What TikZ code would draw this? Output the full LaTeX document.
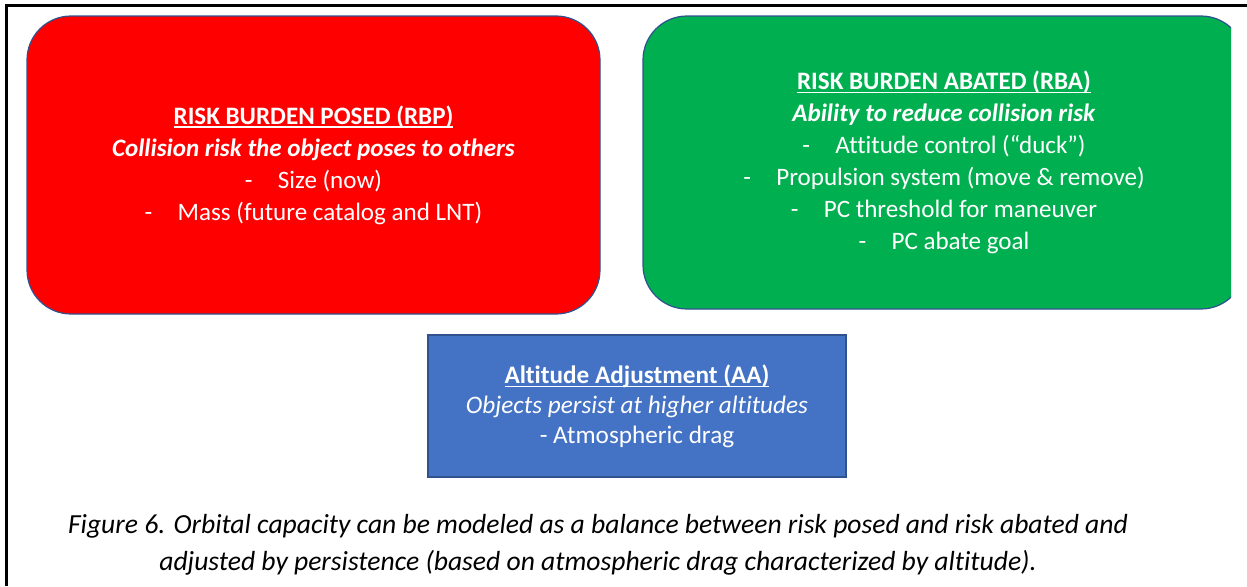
\documentclass[tikz,border=0pt]{standalone}
\usepackage{fontspec}
\setmainfont[Ligatures={NoCommon,NoContextual}]{Carlito}

\definecolor{rbpred}{HTML}{FF0000}
\definecolor{rbagreen}{HTML}{00B050}
\definecolor{aablue}{HTML}{4472C4}
\definecolor{edgeblue}{HTML}{2F528F}

% underline drawn at a fixed depth below the baseline
\newcommand\titleul[1]{\setbox0=\hbox{#1}\rlap{\rule[-2.6pt]{\wd0}{0.85pt}}\box0}
% centred list item with a dash
\newcommand\dashitem[1]{-\hspace{19pt}#1}

\begin{document}
\begin{tikzpicture}[x=0.75pt,y=-0.75pt,
  panel/.style={draw=edgeblue, line width=0.9pt, text=white, align=center,
    inner sep=0pt, font=\fontsize{18.8}{24}\selectfont},
  roundpanel/.style={panel, rounded corners=33pt},
  captiontext/.style={align=center, inner sep=0pt,
    font=\itshape\fontsize{20.7}{27.75}\selectfont}]
\useasboundingbox (0,0) rectangle (1247,586);

% page frame (top and left rules)
\draw[line width=1.6pt] (6.5,586) -- (6.5,5.5) -- (1247,5.5);

% risk burden posed
\node[roundpanel, fill=rbpred, minimum width=429.75pt, minimum height=223.5pt]
  (rbp) at (313.5,165)
  {\titleul{\textbf{RISK BURDEN POSED (RBP)}}\\
   \textbf{\textit{Collision risk the object poses to others}}\\
   \dashitem{Size (now)}\\
   \dashitem{Mass (future catalog and LNT)}};

% risk burden abated (runs past the right margin)
\begin{scope}
  \clip (0,0) rectangle (1231,586);
  \node[roundpanel, fill=rbagreen, minimum width=451.5pt, minimum height=219.75pt]
    (rba) at (944,162.5)
    {\titleul{\textbf{RISK BURDEN ABATED (RBA)}}\\
     \textbf{\textit{Ability to reduce collision risk}}\\
     \dashitem{Attitude control (“duck”)}\\
     \dashitem{Propulsion system (move \& remove)}\\
     \dashitem{PC threshold for maneuver}\\
     \dashitem{PC abate goal}};
\end{scope}

% altitude adjustment
\node[panel, fill=aablue, minimum width=313.5pt, minimum height=106.5pt,
  font=\fontsize{18.9}{22.5}\selectfont]
  (aa) at (637,406)
  {\titleul{\textbf{Altitude Adjustment (AA)}}\\
   \textit{Objects persist at higher altitudes}\\
   - Atmospheric drag};

% caption
\node[captiontext] (cap) at (598,545)
  {Figure 6. Orbital capacity can be modeled as a balance between risk posed and risk abated and\\
   adjusted by persistence (based on atmospheric drag characterized by altitude).};
\end{tikzpicture}
\end{document}
